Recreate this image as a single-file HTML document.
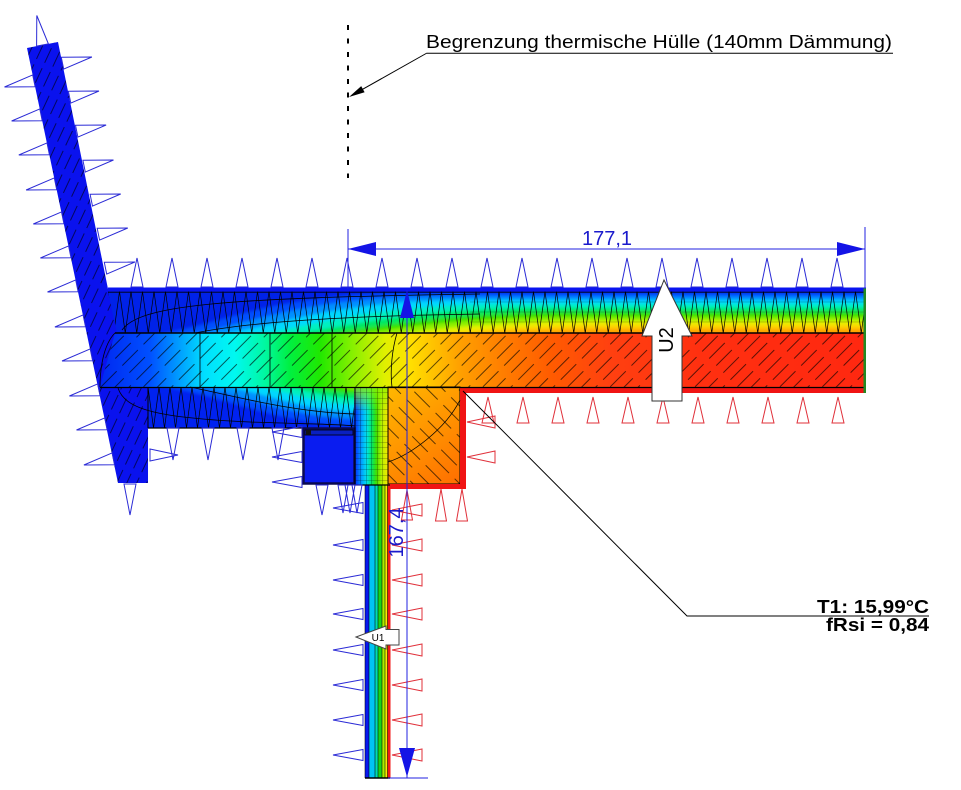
<!DOCTYPE html>
<html><head><meta charset="utf-8">
<style>html,body{margin:0;padding:0;background:#fff}svg{display:block}</style>
</head><body>
<svg xmlns="http://www.w3.org/2000/svg" width="961" height="790" viewBox="0 0 961 790" font-family="'Liberation Sans', Arial, sans-serif">
<defs>
<linearGradient id="gSlab" gradientUnits="userSpaceOnUse" x1="100" y1="0" x2="865" y2="0">
<stop offset="0" stop-color="#0028f0"/>
<stop offset="0.0654" stop-color="#0050ff"/>
<stop offset="0.1046" stop-color="#00a0ff"/>
<stop offset="0.1373" stop-color="#00e0ff"/>
<stop offset="0.1765" stop-color="#00f8f0"/>
<stop offset="0.2157" stop-color="#00f8a0"/>
<stop offset="0.2484" stop-color="#00f040"/>
<stop offset="0.2876" stop-color="#20e800"/>
<stop offset="0.3268" stop-color="#80f000"/>
<stop offset="0.3725" stop-color="#e0f000"/>
<stop offset="0.4052" stop-color="#ffe000"/>
<stop offset="0.4379" stop-color="#ffc000"/>
<stop offset="0.4706" stop-color="#ffa000"/>
<stop offset="0.5229" stop-color="#ff8000"/>
<stop offset="0.5882" stop-color="#ff5c00"/>
<stop offset="0.6667" stop-color="#ff4010"/>
<stop offset="0.7843" stop-color="#ff3010"/>
<stop offset="1" stop-color="#ff2810"/>
</linearGradient>
<linearGradient id="gCorner" gradientUnits="userSpaceOnUse" x1="355" y1="0" x2="388" y2="0">
<stop offset="0" stop-color="#0030ff"/>
<stop offset="0.2" stop-color="#00a0ff"/>
<stop offset="0.35" stop-color="#00e0f0"/>
<stop offset="0.5" stop-color="#00e870"/>
<stop offset="0.65" stop-color="#40e000"/>
<stop offset="0.8" stop-color="#b0f000"/>
<stop offset="1" stop-color="#f8e800"/>
</linearGradient>
<linearGradient id="gCornerTop" gradientUnits="userSpaceOnUse" x1="0" y1="387" x2="0" y2="412">
<stop offset="0" stop-color="#90f000" stop-opacity="0.85"/>
<stop offset="1" stop-color="#90f000" stop-opacity="0"/>
</linearGradient>
<linearGradient id="gBeam" gradientUnits="userSpaceOnUse" x1="388" y1="387" x2="460" y2="484">
<stop offset="0" stop-color="#ffb800"/>
<stop offset="1" stop-color="#ff6e00"/>
</linearGradient>
<pattern id="hB" width="9" height="22" patternUnits="userSpaceOnUse" patternTransform="rotate(25)">
<line x1="4" y1="0" x2="4" y2="16" stroke="#000" stroke-width="0.8" stroke-opacity="0.75"/>
</pattern>
<pattern id="hS" width="10" height="30" patternUnits="userSpaceOnUse" patternTransform="rotate(45)">
<line x1="5" y1="0" x2="5" y2="22" stroke="#000" stroke-width="0.8" stroke-opacity="0.8"/>
</pattern>
<pattern id="hBm" width="11" height="30" patternUnits="userSpaceOnUse" patternTransform="rotate(-45)">
<line x1="5" y1="0" x2="5" y2="22" stroke="#000" stroke-width="0.8" stroke-opacity="0.8"/>
</pattern>
<pattern id="zU" x="108" y="291.5" width="11.5" height="41.5" patternUnits="userSpaceOnUse">
<path d="M0,0 L5.75,41.5 L11.5,0" fill="none" stroke="#000" stroke-width="0.7"/>
</pattern>
<pattern id="zL" x="148" y="387" width="11" height="41" patternUnits="userSpaceOnUse">
<path d="M0,0 L5.5,41 L11,0" fill="none" stroke="#000" stroke-width="0.7"/>
</pattern>
<pattern id="grid" x="355" y="387" width="5.5" height="5.5" patternUnits="userSpaceOnUse">
<path d="M0,0 L5.5,0 M0,0 L0,5.5" fill="none" stroke="#000" stroke-width="0.6" stroke-opacity="0.8"/>
</pattern>
<filter id="bl" x="-5%" y="-30%" width="110%" height="160%"><feGaussianBlur stdDeviation="1.5"/></filter>
<clipPath id="cU"><polygon points="108,291.5 865,291.5 865,333 117,333"/></clipPath>
<clipPath id="cL"><rect x="148" y="387" width="207" height="41"/></clipPath>
</defs>

<rect width="961" height="790" fill="#fff"/>

<polygon points="27,48 58,42 108,289 148,289 148,483 118,483" fill="#0a12ee"/>
<polygon points="27,48 58,42 108,289 148,289 148,483 118,483" fill="url(#hB)"/>

<g clip-path="url(#cU)"><g filter="url(#bl)">
<rect x="100" y="285" width="775" height="55" fill="#0020e8"/>
<path d="M150,335 C210,330 260,295.5 400,293.5 L870,293.5 L870,340 L150,340Z" fill="#0050ff"/>
<path d="M180,335 C240,330 290,298.5 430,296.5 L870,296.5 L870,340 L180,340Z" fill="#0090ff"/>
<path d="M210,335 C270,330 320,302 460,300 L870,300 L870,340 L210,340Z" fill="#00d8ff"/>
<path d="M245,335 C305,330 355,306 495,304 L870,304 L870,340 L245,340Z" fill="#00f0c0"/>
<path d="M280,335 C340,330 390,310 530,308 L870,308 L870,340 L280,340Z" fill="#00e860"/>
<path d="M310,335 C370,330 420,314 560,312 L870,312 L870,340 L310,340Z" fill="#30e000"/>
<path d="M345,335 C395,330 440,319 560,317 L870,317 L870,340 L345,340Z" fill="#90f000"/>
<path d="M385,335 C430,331 470,323 580,321 L870,321 L870,340 L385,340Z" fill="#e8f000"/>
<path d="M415,335 C455,332 490,327 590,325 L870,325 L870,340 L415,340Z" fill="#ffd000"/>
<path d="M445,335 C480,333 510,330 600,329 L870,329 L870,340 L445,340Z" fill="#ffa000"/>
</g></g>
<polygon points="108,291.5 865,291.5 865,333 117,333" fill="url(#zU)"/>
<g stroke="#000" stroke-width="0.6" stroke-opacity="0.35">
<line x1="470" y1="302" x2="865" y2="302"/><line x1="470" y1="312" x2="865" y2="312"/><line x1="470" y1="322" x2="865" y2="322"/>
</g>

<polygon points="115,333 865,333 865,387 100,387" fill="url(#gSlab)"/>
<polygon points="115,333 865,333 865,387 100,387" fill="url(#hS)"/>

<g clip-path="url(#cL)"><g filter="url(#bl)">
<rect x="140" y="380" width="225" height="55" fill="#0020f0"/>
<path d="M150,385 C213.6,390 277.2,426 362,426 L362,380 L150,380Z" fill="#0050ff"/>
<path d="M180,385 C234.6,390 289.2,419 362,419 L362,380 L180,380Z" fill="#0090ff"/>
<path d="M215,385 C259.1,390 303.2,412 362,412 L362,380 L215,380Z" fill="#00d8ff"/>
<path d="M250,385 C283.6,390 317.2,405 362,405 L362,380 L250,380Z" fill="#00f0c0"/>
<path d="M280,385 C304.6,390 329.2,399 362,399 L362,380 L280,380Z" fill="#00e860"/>
<path d="M305,385 C322.1,389 339.2,394 362,394 L362,380 L305,380Z" fill="#30e000"/>
<path d="M335,385 C343.1,388 351.2,390 362,390 L362,380 L335,380Z" fill="#90f000"/>
</g></g>
<rect x="148" y="387" width="207" height="41" fill="url(#zL)"/>

<rect x="354" y="387" width="34" height="98" fill="url(#gCorner)"/>
<rect x="354" y="387" width="34" height="25" fill="url(#gCornerTop)"/>
<rect x="354" y="387" width="34" height="98" fill="url(#grid)"/>

<rect x="388" y="387" width="72" height="97" fill="url(#gBeam)"/>
<rect x="388" y="387" width="72" height="97" fill="url(#hBm)"/>
<rect x="388" y="387" width="72" height="97" fill="none" stroke="#000" stroke-width="1"/>

<rect x="460" y="387.5" width="406" height="5.5" fill="#f01414"/>
<rect x="460" y="387.5" width="6" height="101.5" fill="#f01414"/>
<rect x="388" y="484" width="78" height="5" fill="#f01414"/>

<rect x="303.5" y="428.5" width="51" height="55" fill="#0a1cf0" stroke="#0a0a50" stroke-width="2.5"/>
<rect x="305" y="430" width="48" height="5" fill="#0a20c0" stroke="#000" stroke-width="0.8"/>
<rect x="306" y="430" width="5" height="5" fill="#111"/>

<rect x="365" y="485" width="4" height="293" fill="#0818f0"/>
<rect x="369" y="485" width="6" height="293" fill="#00c4f4"/>
<rect x="375" y="485" width="3" height="293" fill="#00dcb0"/>
<rect x="378" y="485" width="4" height="293" fill="#18d418"/>
<rect x="382" y="485" width="3" height="293" fill="#a8ec00"/>
<rect x="385" y="485" width="2.5" height="293" fill="#f8f000"/>
<rect x="387.5" y="485" width="3" height="293" fill="#f01818"/>
<g stroke="#000" stroke-width="0.7" stroke-opacity="0.8">
<line x1="365" y1="485" x2="365" y2="778"/><line x1="369" y1="485" x2="369" y2="778"/><line x1="375" y1="485" x2="375" y2="778"/>
<line x1="378" y1="485" x2="378" y2="778"/><line x1="382" y1="485" x2="382" y2="778"/><line x1="385" y1="485" x2="385" y2="778"/>
<line x1="387.5" y1="485" x2="387.5" y2="778"/>
</g>
<line x1="354" y1="485" x2="390" y2="485" stroke="#000" stroke-width="1.2"/>
<line x1="365" y1="778" x2="390" y2="778" stroke="#000" stroke-width="1.5"/>

<g fill="none" stroke="#000">
<line x1="115" y1="333" x2="865" y2="333" stroke-width="1.5"/>
<line x1="100" y1="387.5" x2="866" y2="387.5" stroke-width="1.3"/>
<line x1="148" y1="387" x2="148" y2="428" stroke-width="1"/>
<line x1="148" y1="428" x2="303" y2="428" stroke-width="1.2"/>
<line x1="355" y1="387" x2="355" y2="484" stroke-width="1"/>
<line x1="108" y1="292.2" x2="865" y2="292.2" stroke-width="0.8"/>
<g stroke-width="0.8">
<line x1="200" y1="333" x2="200" y2="387"/><line x1="270" y1="333" x2="270" y2="387"/><line x1="332" y1="333" x2="332" y2="387"/>
<path d="M397,333 C392,350 390,370 392,387"/>
<path d="M122,330 C140,305 220,298 480,294"/>
<path d="M195,333 C250,322 340,316 480,314"/>
<path d="M118,388 C125,410 160,418 250,422 C300,424 340,424 355,426"/>
<path d="M190,387 C230,395 290,412 355,414"/>
<path d="M388,462 C410,455 445,430 460,400"/>
<path d="M115,333 C103,345 100,370 100,387"/>
</g>
</g>

<rect x="108" y="287.5" width="758" height="4" fill="#0a14f0"/>
<rect x="863.5" y="288" width="2.5" height="105" fill="#228a22"/>

<g fill="none" stroke="#2b2bd6" stroke-width="1">
<polygon points="36.6,46.1 36.8,15.5 48.4,43.9"/>
<polygon points="32.7,74.9 4.5,87 35.1,86.7"/>
<polygon points="39.8,108.9 11.6,121 42.2,120.7"/>
<polygon points="47,142.9 18.8,155 49.4,154.7"/>
<polygon points="54.3,177.9 26.1,190 56.7,189.7"/>
<polygon points="61.5,211.9 33.3,224 63.9,223.7"/>
<polygon points="68.6,245.9 40.4,258 71,257.7"/>
<polygon points="75.7,279.9 47.5,292 78.1,291.7"/>
<polygon points="83.1,314.9 54.9,327 85.5,326.7"/>
<polygon points="90.2,348.9 62,361 92.6,360.7"/>
<polygon points="97.6,383.9 69.4,396 100,395.7"/>
<polygon points="104.7,417.9 76.5,430 107.1,429.7"/>
<polygon points="112.1,452.9 83.9,465 114.5,464.7"/>
<polygon points="61.3,57.3 91.9,57 63.7,69.1"/>
<polygon points="68.4,91.3 99,91 70.8,103.1"/>
<polygon points="75.5,125.3 106.1,125 77.9,137.1"/>
<polygon points="82.9,160.3 113.5,160 85.3,172.1"/>
<polygon points="90.1,194.3 120.7,194 92.5,206.1"/>
<polygon points="97.2,228.3 127.8,228 99.6,240.1"/>
<polygon points="104.3,262.3 134.9,262 106.7,274.1"/>
<polygon points="131,287 137,258 143,287"/>
<polygon points="166,287 172,258 178,287"/>
<polygon points="201,287 207,258 213,287"/>
<polygon points="236,287 242,258 248,287"/>
<polygon points="271,287 277,258 283,287"/>
<polygon points="306,287 312,258 318,287"/>
<polygon points="341,287 347,258 353,287"/>
<polygon points="376,287 382,258 388,287"/>
<polygon points="411,287 417,258 423,287"/>
<polygon points="446,287 452,258 458,287"/>
<polygon points="481,287 487,258 493,287"/>
<polygon points="516,287 522,258 528,287"/>
<polygon points="551,287 557,258 563,287"/>
<polygon points="586,287 592,258 598,287"/>
<polygon points="621,287 627,258 633,287"/>
<polygon points="656,287 662,258 668,287"/>
<polygon points="691,287 697,258 703,287"/>
<polygon points="726,287 732,258 738,287"/>
<polygon points="761,287 767,258 773,287"/>
<polygon points="796,287 802,258 808,287"/>
<polygon points="831,287 837,258 843,287"/>
<polygon points="167,428 173,460 179,428"/>
<polygon points="202,428 208,460 214,428"/>
<polygon points="237,428 243,460 249,428"/>
<polygon points="272,428 278,460 284,428"/>
<polygon points="124,484 130,515 136,484"/>
<polygon points="150,449 178,455 150,461"/>
<polygon points="302,426.5 272,432 302,437.5"/>
<polygon points="302,451.5 272,457 302,462.5"/>
<polygon points="302,476.5 272,482 302,487.5"/>
<polygon points="316,485 322,515 328,485"/>
<polygon points="338,485 343,513 348,485"/>
<polygon points="345,485 350,513 355,485"/>
<polygon points="352,485 357,513 362,485"/>
<polygon points="363,502.5 333,508 363,513.5"/>
<polygon points="363,539.5 333,545 363,550.5"/>
<polygon points="363,574.5 333,580 363,585.5"/>
<polygon points="363,608.5 333,614 363,619.5"/>
<polygon points="363,644.5 333,650 363,655.5"/>
<polygon points="363,679.5 333,685 363,690.5"/>
<polygon points="363,714.5 333,720 363,725.5"/>
<polygon points="363,749.5 333,755 363,760.5"/>
</g>

<g fill="none" stroke="#e0303a" stroke-width="1">
<polygon points="482,423 488,397 494,423"/>
<polygon points="517,423 523,397 529,423"/>
<polygon points="552,423 558,397 564,423"/>
<polygon points="587,423 593,397 599,423"/>
<polygon points="622,423 628,397 634,423"/>
<polygon points="657,423 663,397 669,423"/>
<polygon points="692,423 698,397 704,423"/>
<polygon points="727,423 733,397 739,423"/>
<polygon points="762,423 768,397 774,423"/>
<polygon points="797,423 803,397 809,423"/>
<polygon points="832,423 838,397 844,423"/>
<polygon points="495,416 467,422 495,428"/>
<polygon points="495,451 467,457 495,463"/>
<polygon points="401.5,520 407,490 412.5,520"/>
<polygon points="435.5,521 441,489 446.5,521"/>
<polygon points="456.5,521 462,489 467.5,521"/>
<polygon points="422,504 392,510 422,516"/>
<polygon points="422,539 392,545 422,551"/>
<polygon points="422,574 392,580 422,586"/>
<polygon points="422,608 392,614 422,620"/>
<polygon points="422,644 392,650 422,656"/>
<polygon points="422,679 392,685 422,691"/>
<polygon points="422,714 392,720 422,726"/>
<polygon points="422,749 392,755 422,761"/>
</g>

<g stroke="#2020e0" stroke-width="1" fill="none">
<line x1="348" y1="229" x2="348" y2="289"/>
<line x1="865" y1="227" x2="865" y2="289"/>
<line x1="348" y1="249" x2="865" y2="249"/>
<line x1="407" y1="290" x2="407" y2="778"/>
<line x1="388" y1="778" x2="428" y2="778"/>
</g>
<g fill="#1414e6">
<polygon points="348,249 376,242 376,256"/>
<polygon points="865,249 837,242 837,256"/>
<polygon points="407,290 400,318 414,318"/>
<polygon points="407,777 399,748 415,748"/>
</g>
<text x="607" y="245" font-size="20" fill="#1a1acc" text-anchor="middle">177,1</text>
<text transform="translate(403,532.5) rotate(-90)" font-size="20" fill="#1a1acc" text-anchor="middle">167,4</text>

<polygon points="664,280 692,336 682,336 682,401 652,401 652,336 642,336" fill="#fff" stroke="#333" stroke-width="1"/>
<text transform="translate(673,340) rotate(-90)" font-size="20" fill="#000" text-anchor="middle">U2</text>

<polygon points="356,637 386,626 386,629.5 399,629.5 399,645 386,645 386,649" fill="#fff" stroke="#444" stroke-width="1"/>
<text x="378" y="641" font-size="10" fill="#000" text-anchor="middle">U1</text>

<line x1="348" y1="25" x2="348" y2="178" stroke="#000" stroke-width="2" stroke-dasharray="5 8.5"/>
<line x1="427" y1="53" x2="355" y2="93.6" stroke="#000" stroke-width="1"/>
<polygon points="349,97 364.6,92.2 361.2,86.1" fill="#000"/>
<line x1="427" y1="53.3" x2="893" y2="53.3" stroke="#000" stroke-width="1"/>
<text x="426" y="48" font-size="18" fill="#000" textLength="466" lengthAdjust="spacingAndGlyphs">Begrenzung thermische Hülle (140mm Dämmung)</text>

<polyline points="463,391 687,616 929,616" fill="none" stroke="#000" stroke-width="1"/>
<text x="817" y="613" font-size="18" font-weight="bold" fill="#000" textLength="112" lengthAdjust="spacingAndGlyphs">T1: 15,99°C</text>
<text x="826" y="631" font-size="18" font-weight="bold" fill="#000" textLength="103" lengthAdjust="spacingAndGlyphs">fRsi = 0,84</text>
</svg>
</body></html>
